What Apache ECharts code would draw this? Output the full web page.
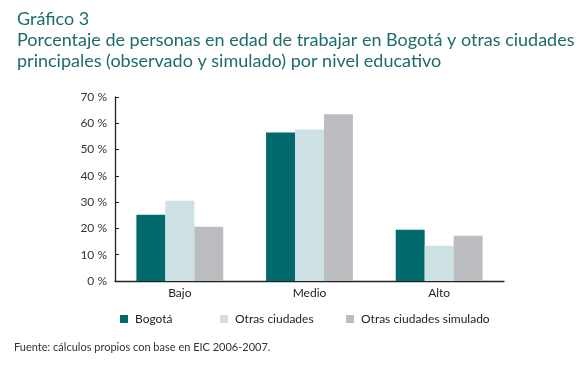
<!DOCTYPE html>
<html>
<head>
<meta charset="utf-8">
<script src="https://cdn.jsdelivr.net/npm/echarts@6/dist/echarts.min.js"></script>
<style>
  html, body { margin: 0; padding: 0; background: #fff; }
  #chart { width: 585px; height: 370px; }
</style>
</head>
<body>
<div id="chart"></div>
<script>
const categories = ['Bajo', 'Medio', 'Alto']
const seriesNames = ['Bogotá', 'Otras ciudades', 'Otras ciudades simulado']
const bogota = [25.2, 56.5, 19.5]
const otras = [30.5, 57.6, 13.4]
const simulado = [20.6, 63.4, 17.2]
const yTicks = [0, 10, 20, 30, 40, 50, 60, 70]

const colors = ['#006a6d', '#cde0e3', '#bbbcc0']
const font = 'Lato'

const chart = echarts.init(document.getElementById('chart'))

// one legend per item so each can sit where the original put it
const legendLefts = [115, 215, 341]

chart.setOption({
  animation: false,
  color: colors,
  textStyle: { fontFamily: font },
  title: {
    text: 'Gráfico 3\nPorcentaje de personas en edad de trabajar en Bogotá y otras ciudades\nprincipales (observado y simulado) por nivel educativo',
    left: 12,
    top: 4,
    textStyle: { fontFamily: font, fontWeight: 'normal', fontSize: 18, color: '#1e6b6c', lineHeight: 21 }
  },
  graphic: [{
    type: 'text',
    left: 14,
    top: 342,
    style: { text: 'Fuente: cálculos propios con base en EIC 2006-2007.', font: '11px ' + font, fill: '#333' }
  }],
  legend: seriesNames.map((name, i) => ({
    data: [name],
    left: legendLefts[i],
    top: 308,
    icon: 'rect',
    itemWidth: 8,
    itemHeight: 8,
    itemGap: 0,
    textStyle: { fontFamily: font, fontSize: 12, color: '#222', padding: [0, 0, 0, 2] }
  })),
  grid: { left: 115, right: 81, top: 97, bottom: 89 },
  xAxis: {
    type: 'category',
    data: categories,
    axisLine: { lineStyle: { color: '#222', width: 1.3 } },
    axisTick: { inside: true, length: 4, lineStyle: { color: '#222' } },
    axisLabel: { fontFamily: font, fontSize: 12, color: '#222', margin: 6 }
  },
  yAxis: {
    type: 'value',
    min: 0,
    max: 70,
    interval: 10,
    axisLine: { show: true, lineStyle: { color: '#222', width: 1.3 } },
    axisTick: { show: true, inside: true, length: 4, lineStyle: { color: '#222' } },
    splitLine: { show: false },
    axisLabel: {
      fontFamily: font, fontSize: 12, color: '#333', margin: 8,
      customValues: yTicks,
      formatter: v => v + ' %'
    }
  },
  series: [
    { name: seriesNames[0], type: 'bar', data: bogota, barGap: '0%', barCategoryGap: '33%' },
    { name: seriesNames[1], type: 'bar', data: otras, barGap: '0%', barCategoryGap: '33%' },
    { name: seriesNames[2], type: 'bar', data: simulado, barGap: '0%', barCategoryGap: '33%' }
  ]
})
</script>
</body>
</html>
